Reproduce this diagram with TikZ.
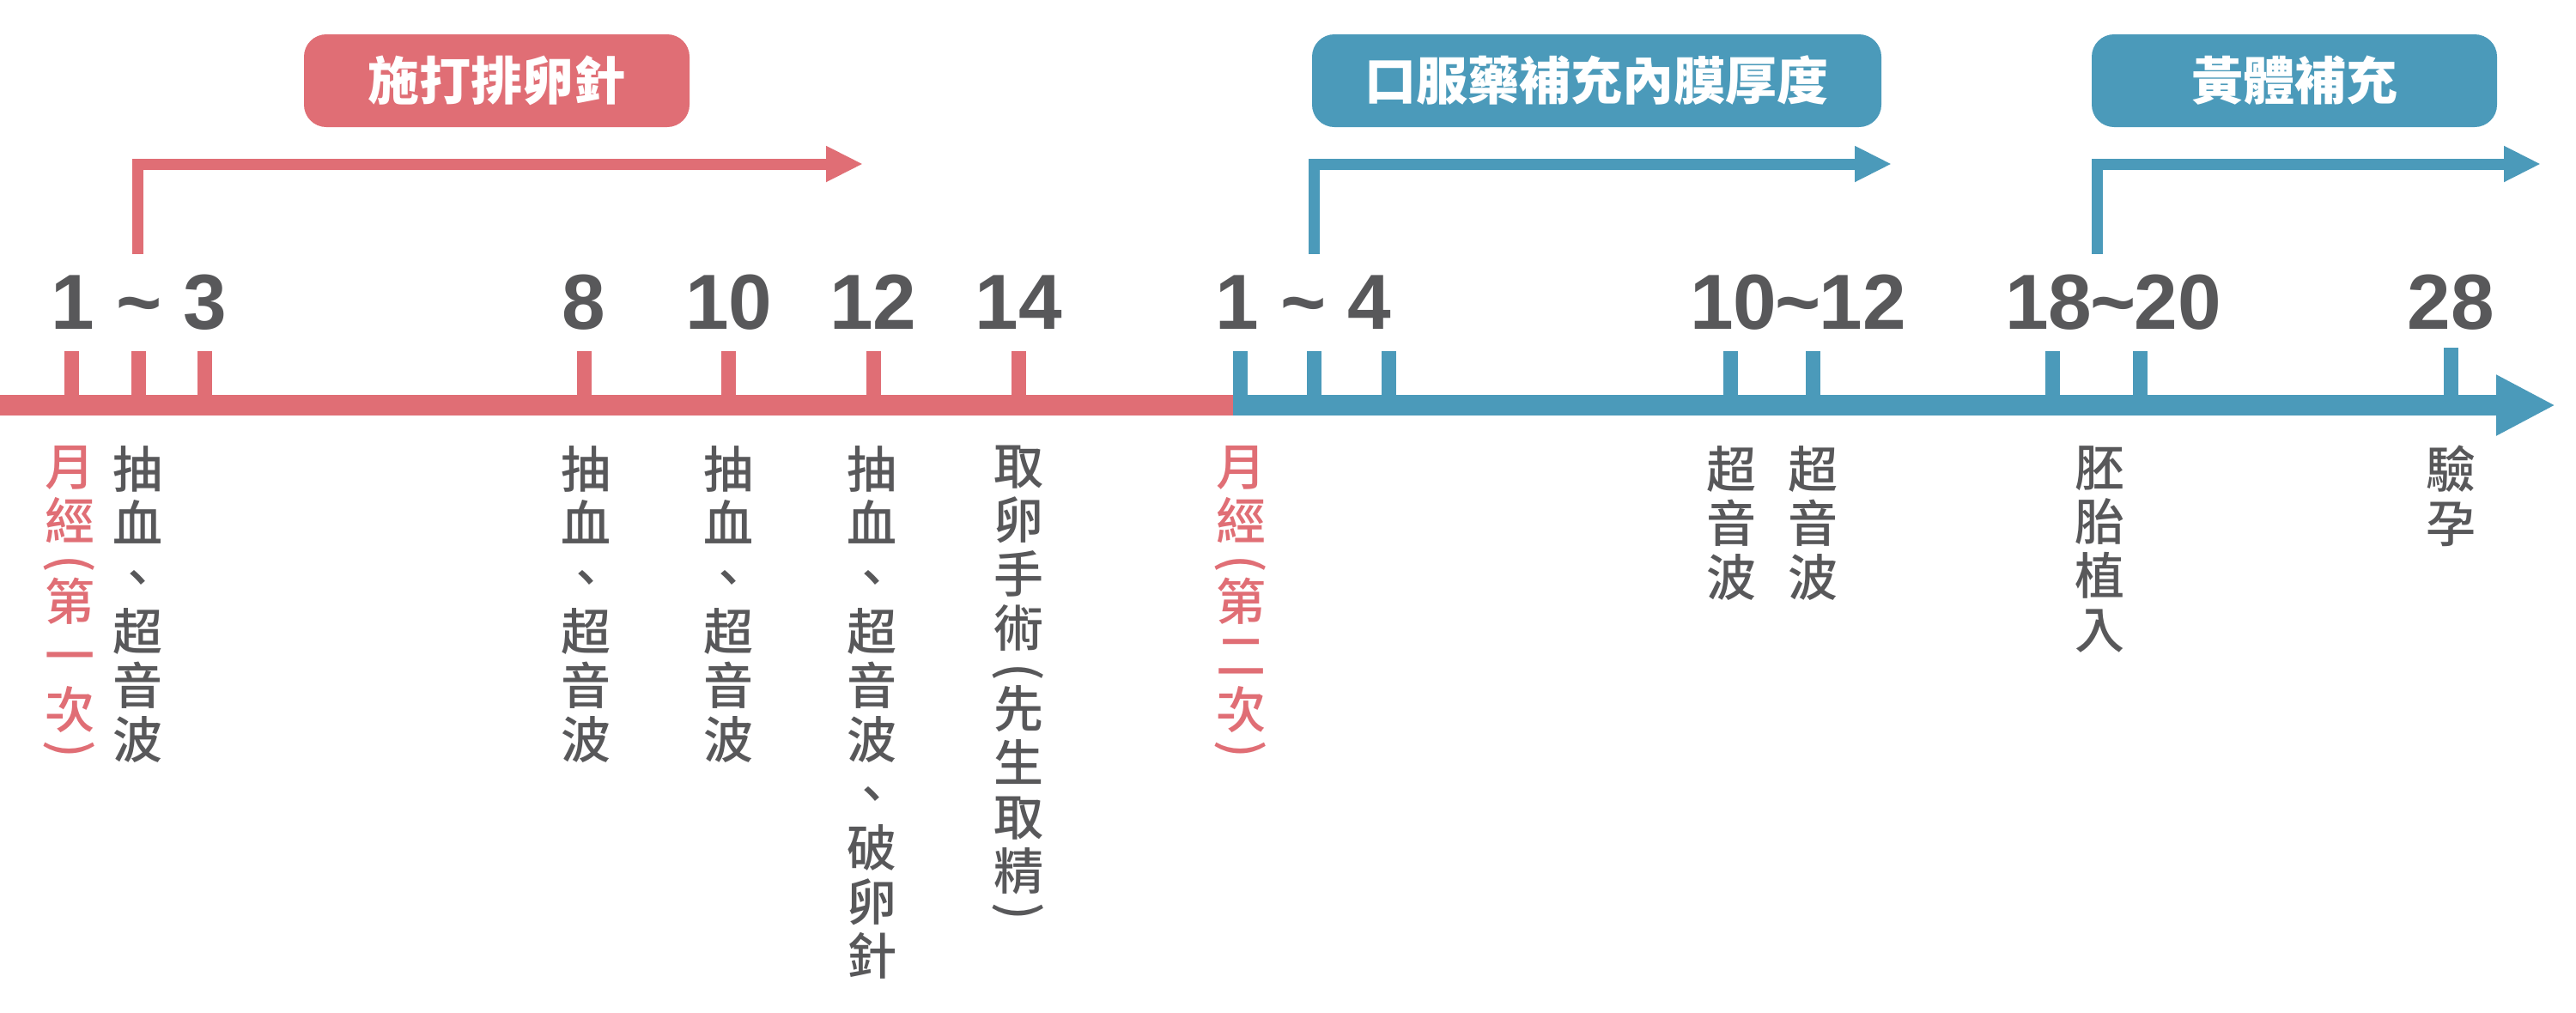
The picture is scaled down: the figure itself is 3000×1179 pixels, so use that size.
\documentclass[tikz,border=0pt]{standalone}
\usepackage{fontspec}
\usepackage{graphicx}
\setmainfont{Liberation Sans}
\newfontfamily\cjk{Noto Sans CJK TC}
\newfontfamily\cjkm{Noto Sans CJK TC}[UprightFont=* Medium]
\usetikzlibrary{arrows.meta}
\definecolor{rd}{HTML}{E06E75}
\definecolor{bl}{HTML}{4B9ABA}
\definecolor{gy}{HTML}{58585A}
\newcommand{\vop}{\rotatebox[origin=c]{-90}{(}}
\newcommand{\vcp}{\rotatebox[origin=c]{-90}{)}}
\newcommand{\tl}{\textasciitilde}
\begin{document}
\begin{tikzpicture}[x=1pt,y=-1pt,
  num/.style={font=\bfseries\fontsize{91}{91}\selectfont, text=gy, anchor=base, inner sep=0},
  tag/.style={rounded corners=26pt, minimum height=108pt, inner sep=0, text=white, font=\cjk\bfseries\fontsize{60}{60}\selectfont},
  vlab/.style={font=\cjkm\fontsize{58}{63}\selectfont, text=gy, anchor=north, inner sep=0, align=center},
  tickmark/.style={line width=17pt},
  bracket/.style={line width=13pt, line join=miter, -{Triangle[length=43pt,width=39pt]}},
]
\useasboundingbox[fill=white] (0,0) rectangle (3000,1179);

% timeline
\coordinate (t0) at (0,472);
\coordinate (tm) at (1436,472);
\coordinate (t1) at (2976,472);
\draw[rd, line width=24pt] (t0) -- (tm);
\draw[bl, line width=24pt, -{Triangle[length=69pt,width=66pt]}] (tm) -- (t1);

% ticks
\foreach \x in {83,161,238,680,848,1017,1186}
  \draw[tickmark, rd] (\x,409) -- (\x,461);
\foreach \x in {1444,1530,1617,2015,2111,2390,2492}
  \draw[tickmark, bl] (\x,409) -- (\x,461);
\draw[tickmark, bl] (2854,405) -- (2854,461);

% day numbers
\node[num] (n13) at (162,383) {1 \tl\ 3};
\node[num] (n8) at (680,383) {8};
\node[num] (n10) at (849,383) {10};
\node[num] (n12) at (1017,383) {12};
\node[num] (n14) at (1186,383) {14};
\node[num] (n14b) at (1518,383) {1 \tl\ 4};
\node[num] (n1012) at (2094,383) {10\kern-2pt\tl\kern-2pt12};
\node[num] (n1820) at (2461,383) {18\kern-2pt\tl\kern-2pt20};
\node[num] (n28) at (2854,383) {28};

% brackets
\coordinate (ra) at (160,296);
\coordinate (rb) at (1005,191);
\draw[bracket, rd] (ra) |- (rb);
\coordinate (ba) at (1530,296);
\coordinate (bb) at (2203,191);
\draw[bracket, bl] (ba) |- (bb);
\coordinate (ca) at (2442,296);
\coordinate (cb) at (2959,191);
\draw[bracket, bl] (ca) |- (cb);

% tags
\node[tag, fill=rd, minimum width=449pt] (tg1) at (578.5,94) {施打排卵針};
\node[tag, fill=bl, minimum width=663pt] (tg2) at (1859.5,94) {口服藥補充內膜厚度};
\node[tag, fill=bl, minimum width=472pt] (tg3) at (2672,94) {黃體補充};

% vertical labels
\node[vlab, text=rd] (v1) at (81,519) {月\\經\\[-16pt]\vop\\[-16pt]第\\一\\次\\[-20pt]\vcp};
\node[vlab] (v2) at (160,519) {抽\\血\\、\\超\\音\\波};
\node[vlab] (v3) at (682,519) {抽\\血\\、\\超\\音\\波};
\node[vlab] (v4) at (848,519) {抽\\血\\、\\超\\音\\波};
\node[vlab] (v5) at (1015,519) {抽\\血\\、\\超\\音\\波\\、\\破\\卵\\針};
\node[vlab] (v6) at (1186,519) {取\\卵\\手\\術\\[-16pt]\vop\\[-16pt]先\\生\\取\\精\\[-20pt]\vcp};
\node[vlab, text=rd] (v7) at (1445,519) {月\\經\\[-16pt]\vop\\[-16pt]第\\二\\次\\[-20pt]\vcp};
\node[vlab] (v8) at (2016,519) {超\\音\\波};
\node[vlab] (v9) at (2111,519) {超\\音\\波};
\node[vlab] (v10) at (2445,519) {胚\\胎\\植\\入};
\node[vlab] (v11) at (2854,519) {驗\\孕};
\end{tikzpicture}
\end{document}
